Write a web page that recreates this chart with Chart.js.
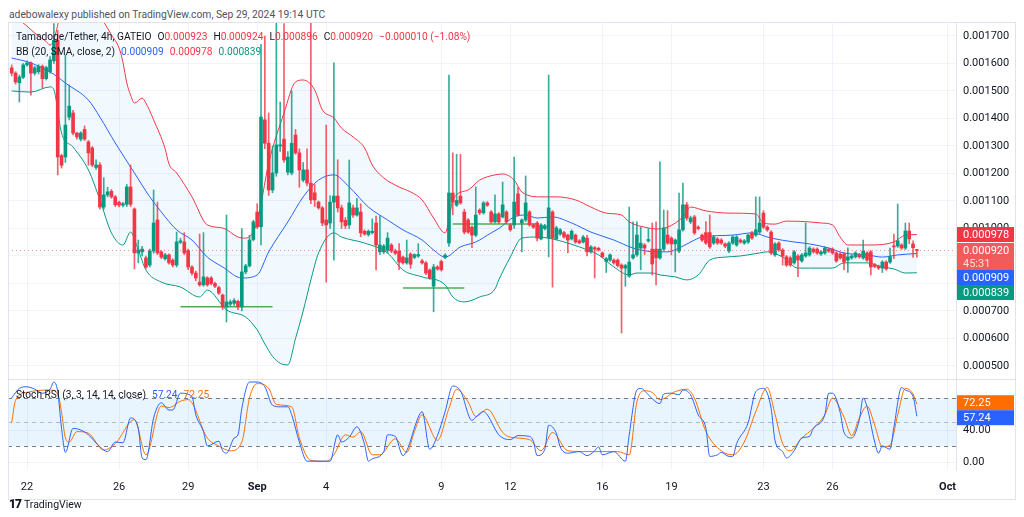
<!DOCTYPE html>
<html>
<head>
<meta charset="utf-8">
<title>Tamadoge/Tether 4h</title>
<script src="https://cdn.jsdelivr.net/npm/chart.js@4.4.1/dist/chart.umd.min.js"></script>
<style>
  body { margin: 0; width: 1024px; height: 517px; background: #fff; position: relative; overflow: hidden; font-family: Roboto, sans-serif; }
  .abs { position: absolute; }
  #header { left: 9px; top: 8px; font-size: 10.3px; color: #50535e; }
  #frame { left: 8px; top: 22px; width: 1008px; height: 478px; border: 1px solid #e0e3eb; box-sizing: border-box; pointer-events: none; }
  .sep { background: #e0e3eb; }
  .legend { left: 16px; font-size: 10.2px; color: #131722; white-space: nowrap; line-height: 13px; }
  .legend span { margin-left: 6px; }
  #logo { left: 9px; top: 497px; font-size: 10.5px; color: #131722; }
  #logo b { font-size: 12px; font-weight: 900; letter-spacing: -1px; margin-right: 3px; }
</style>
</head>
<body>
<div id="header" class="abs">adebowalexy published on TradingView.com, Sep 29, 2024 19:14 UTC</div>
<canvas id="main" class="abs" width="1008" height="357" style="left:8px;top:22px"></canvas>
<canvas id="stoch" class="abs" width="1008" height="121" style="left:8px;top:379px"></canvas>
<div id="frame" class="abs"></div>
<div class="abs sep" style="left:8px;top:379px;width:1008px;height:1px"></div>
<div id="legend1" class="abs legend" style="top:30px"></div>
<div id="legend2" class="abs legend" style="top:45px"></div>
<div id="legend3" class="abs legend" style="top:388px"></div>
<div id="logo" class="abs"><b>17</b>TradingView</div>
<script>
// prices in millionths of USDT, one entry per 4h candle (first one Aug 21 08:00)
const opens = [
  1584,1565,1530,1550,1595,1602,1565,1570,1590,1545,
  1570,1610,1685,1265,1260,1405,1420,1347,1325,1360,
  1315,1293,1222,1231,1078,1122,1135,1115,1095,1085,
  1088,1151,1071,911,915,893,867,918,1031,915,
  890,904,885,867,950,951,920,860,838,805,
  795,820,820,800,785,758,715,725,728,735,
  715,842,864,960,1060,1006,1395,1310,1140,1202,
  1300,1325,1205,1202,1340,1275,1176,1213,1165,1130,
  1096,1075,1031,1020,1096,1118,1075,1030,1013,1075,
  1049,1060,990,978,985,1020,915,915,920,940,
  918,918,896,875,907,895,900,882,875,849,
  790,860,880,895,947,1129,1085,1118,1060,1031,
  1005,976,1067,1057,1093,1060,1024,1053,1042,1060,
  1013,1013,1126,1020,1031,1060,1013,1020,962,1000,
  965,1060,962,980,985,976,962,976,955,951,
  965,915,930,928,911,880,885,885,885,867,
  856,827,893,904,929,940,955,925,925,893,
  925,976,965,944,918,995,1086,1024,1042,1005,
  976,985,985,947,962,958,944,918,947,940,
  958,947,951,984,976,987,1056,1005,987,904,
  947,922,897,893,875,900,882,900,904,925,
  925,907,911,925,925,911,907,907,885,893,
  897,904,893,911,915,868,862,856,878,878,
  936,936,940,929,991,944,923
];
const highs = [
  1595,1570,1558,1600,1610,1606,1590,1596,1595,1590,
  1625,1745,1720,1270,1631,1522,1430,1350,1352,1373,
  1320,1298,1250,1240,1185,1150,1142,1120,1100,1095,
  1160,1231,1075,958,935,900,925,1140,1096,920,
  910,908,890,987,965,985,925,865,845,980,
  985,825,825,805,790,762,1049,740,745,740,
  1000,870,975,1030,1090,1670,1700,1420,1300,1751,
  1460,1745,1280,1500,1360,1290,1240,1290,1750,1160,
  1100,1080,1376,1120,1602,1250,1085,1040,1249,1085,
  1110,1090,995,995,1035,1045,1045,942,985,945,
  925,945,900,958,912,908,945,888,880,853,
  870,865,885,908,1558,1275,1270,1270,1070,1036,
  1010,1151,1072,1098,1098,1065,1122,1058,1169,1065,
  1018,1260,1150,1035,1191,1065,1018,1025,1018,1015,
  1558,1065,1008,1000,990,980,995,980,960,975,
  975,938,935,932,915,895,908,890,890,872,
  870,1078,1024,1024,1005,945,1000,1020,1024,1242,
  1067,1065,970,962,1129,1165,1095,1045,1048,1010,
  980,1025,1049,975,967,963,948,952,974,974,
  963,960,980,990,1115,1115,1065,1010,992,949,
  952,927,902,898,920,905,909,1020,934,930,
  930,920,934,930,930,916,912,912,930,905,
  916,909,958,916,920,873,867,883,883,929,
  980,1089,945,1020,1020,955,924
];
const lows = [
  1555,1525,1460,1545,1590,1485,1558,1562,1510,1540,
  1565,1600,1195,1220,1240,1395,1340,1325,1318,1320,
  1230,1225,1215,1070,1070,1115,1110,1080,1078,1078,
  1080,1080,853,875,900,855,860,910,905,890,
  885,870,860,860,945,905,850,830,810,790,
  790,790,795,785,760,705,660,718,720,705,
  700,835,860,955,1000,940,1290,1120,1130,1190,
  1280,1240,1195,1195,1270,1150,1170,1155,1090,1080,
  1070,1010,805,1000,885,1060,1000,1000,1000,1040,
  1045,970,975,972,980,849,905,908,910,912,
  905,850,870,870,855,890,895,870,832,815,
  697,848,845,890,935,1050,1080,1088,980,982,
  930,970,1050,1052,1080,1018,1020,1018,1038,1018,
  990,1000,1045,915,1025,1008,1000,955,958,995,
  897,787,958,975,965,911,958,946,944,947,
  900,910,820,918,893,840,880,870,860,620,
  790,822,888,898,850,905,950,831,795,888,
  920,942,904,842,912,990,1030,1018,978,995,
  952,942,928,942,942,942,930,912,942,935,
  946,942,946,960,971,982,1000,990,905,898,
  917,867,862,862,870,825,877,895,899,910,
  906,902,906,913,906,877,888,849,840,888,
  892,892,888,880,831,857,851,840,848,873,
  890,931,924,924,945,895,896
];
const closes = [
  1565,1533,1551,1595,1602,1565,1584,1590,1545,1585,
  1613,1685,1260,1230,1376,1445,1347,1333,1347,1325,
  1275,1231,1231,1078,1122,1133,1115,1086,1085,1090,
  1151,1088,911,922,925,860,918,1020,911,896,
  904,875,867,951,955,911,860,838,820,795,
  824,795,800,790,765,715,733,733,738,715,
  842,864,958,1024,1006,1405,1310,1140,1202,1304,
  1304,1249,1260,1310,1275,1213,1213,1165,1104,1104,
  1075,1020,1013,1096,1118,1075,1024,1010,1093,1049,
  1075,984,980,990,990,940,940,936,965,918,
  910,878,875,893,870,905,905,875,838,820,
  860,853,850,903,1129,1096,1102,1093,987,987,
  976,1049,1057,1093,1085,1024,1053,1024,1086,1024,
  995,1096,1049,1031,1093,1013,1005,965,1013,1010,
  1075,965,1002,995,969,958,990,951,948,969,
  915,933,925,922,897,890,904,875,865,856,
  865,878,904,976,947,929,960,871,893,925,
  1002,947,944,958,995,1086,1038,1038,984,1000,
  958,947,933,969,947,947,936,947,969,969,
  951,955,976,965,995,1020,1005,995,911,944,
  922,900,867,867,915,885,904,911,929,915,
  911,915,929,918,911,882,893,878,897,900,
  911,897,918,885,860,862,856,878,853,897,
  933,955,929,991,962,930,920
];

// Bollinger Bands (20, SMA, close, 2), read as [candle, value]
const bbUpper = [[0,1770],[3,1747],[6,1711],[9,1680],[10,1667],[12,1740],[13,1830],[16,1900],[20,1880],[23,1770],
  [24,1751],[26,1704],[28,1656],[29,1605],[30,1530],[31,1485],[32,1456],[34,1474],[35,1456],[37,1395],[40,1290],
  [41,1235],[43,1202],[47,1115],[51,1013],[55,1002],[59,969],[61,965],[64,1024],[67,1238],[71,1420],[74,1533],
  [76,1540],[79,1504],[81,1431],[84,1402],[86,1365],[89,1333],[92,1293],[94,1231],[97,1184],[101,1151],[104,1133],
  [107,1104],[110,1038],[113,984],[114,1031],[115,1104],[119,1140],[122,1176],[126,1195],[128,1198],[131,1176],
  [133,1133],[138,1115],[142,1115],[147,1104],[151,1078],[155,1056],[159,1049],[161,1024],[166,1002],[168,998],
  [171,1005],[175,1042],[177,1078],[181,1064],[187,1056],[194,1053],[196,1020],[199,1016],[202,1027],[208,1024],
  [211,1020],[214,1013],[216,969],[218,940],[224,940],[230,951],[233,976],[236,978]];
const bbBasis = [[0,1620],[5,1602],[10,1569],[12,1551],[14,1529],[20,1467],[23,1405],[27,1311],[32,1202],[36,1115],
  [39,1060],[43,995],[47,958],[51,896],[55,860],[60,820],[64,831],[67,915],[72,1024],[76,1115],[80,1176],[84,1195],
  [88,1151],[93,1078],[98,1031],[102,995],[107,958],[110,922],[113,896],[117,933],[121,951],[125,984],[127,1000],
  [131,1042],[134,1049],[137,1038],[141,1042],[146,1020],[151,987],[157,958],[162,929],[168,915],[171,915],[174,929],
  [178,958],[180,969],[188,976],[193,984],[198,965],[204,951],[208,944],[213,929],[217,911],[223,904],[227,896],
  [231,904],[236,909]];
const bbLower = [[0,1500],[5,1496],[10,1515],[11,1504],[13,1347],[16,1296],[20,1213],[23,1104],[26,984],[29,940],
  [31,987],[33,922],[35,849],[39,805],[44,787],[49,751],[51,776],[56,704],[61,678],[64,631],[66,580],[68,535],
  [70,510],[72,504],[74,600],[76,700],[78,813],[80,911],[84,984],[86,969],[92,947],[98,911],[102,849],[107,824],
  [113,795],[115,751],[118,733],[122,751],[126,780],[127,813],[130,896],[133,965],[137,969],[140,965],[144,951],
  [148,933],[153,904],[157,860],[161,831],[163,838],[167,838],[169,831],[173,824],[176,813],[179,831],[182,885],
  [186,896],[190,900],[195,911],[197,915],[201,896],[205,856],[208,856],[214,856],[217,875],[223,875],[227,860],
  [230,853],[233,838],[236,839]];

// Stoch RSI (3, 3, 14, 14, close): K and D as [candle, value]
const stochK = [[0,80],[2,92],[4,94],[6,91],[8,86],[10,91],[11,100],[12,88],[13,42],[14,12],[16,42],[18,40],[20,34],
  [23,19],[25,13],[27,25],[29,24],[31,55],[33,42],[34,5],[35,3],[37,55],[39,74],[41,65],[42,65],[44,86],[47,82],
  [48,59],[50,38],[51,20],[54,26],[55,14],[56,11],[58,30],[59,34],[60,67],[62,100],[64,100],[66,94],[68,71],[70,69],
  [72,69],[73,59],[75,25],[77,1],[82,1],[83,1],[85,34],[86,25],[88,31],[90,44],[92,22],[93,1],[94,4],[97,13],[98,34],
  [100,32],[102,8],[103,14],[106,56],[107,63],[109,16],[111,33],[113,63],[115,95],[117,89],[120,52],[121,56],[123,63],
  [124,59],[127,34],[130,28],[132,33],[135,32],[136,26],[137,8],[139,16],[140,46],[142,36],[143,19],[145,11],[148,13],
  [150,8],[152,14],[153,19],[154,9],[157,13],[160,1],[161,34],[163,90],[164,92],[166,84],[167,79],[169,73],[170,85],
  [172,86],[174,84],[175,90],[177,84],[179,59],[181,42],[182,7],[184,9],[185,12],[187,7],[188,7],[189,23],[192,49],
  [194,88],[196,92],[198,67],[199,27],[201,13],[202,5],[204,14],[206,30],[208,32],[209,42],[212,59],[213,86],[214,86],
  [216,62],[217,37],[219,30],[221,53],[222,80],[223,69],[225,25],[226,11],[227,20],[229,16],[230,43],[232,93],[233,90],
  [235,82],[236,57.24]];
const stochD = [[0,49],[1,77],[4,87],[10,90],[12,85],[13,62],[14,30],[15,25],[17,38],[20,36],[24,15],[27,23],[32,53],
  [35,9],[39,70],[41,68],[44,76],[46,78],[51,30],[54,20],[57,14],[60,25],[62,80],[64,98],[67,92],[69,72],[73,69],
  [75,30],[78,2],[82,1],[84,9],[87,34],[89,31],[91,38],[94,9],[96,9],[100,29],[103,12],[105,38],[107,59],[111,27],
  [114,67],[116,91],[119,75],[121,57],[124,66],[128,37],[130,31],[135,28],[138,14],[141,37],[145,14],[150,13],
  [154,13],[158,13],[161,9],[163,75],[165,89],[167,87],[169,78],[173,88],[176,91],[178,80],[181,38],[185,14],
  [188,9],[191,25],[194,63],[197,93],[199,60],[201,23],[203,14],[206,30],[209,42],[212,59],[214,80],[217,56],
  [219,33],[221,55],[223,70],[225,46],[227,19],[229,21],[231,59],[233,92],[235,85],[236,72.25]];

// horizontal lines drawn on the chart
const levelPrice = [715, 784, 1016];
const levelFrom = [44, 102, 115];
const levelTo = [68, 118, 137];

const priceTicks = [500, 600, 700, 800, 900, 1000, 1100, 1200, 1300, 1400, 1500, 1600, 1700];
const stochTicks = [0, 40];
const bandLevels = [80, 50, 20];
const tickLabels = ['22', '26', '29', 'Sep', '4', '9', '12', '16', '19', '23', '26', 'Oct'];
const tickDays = [0, 4, 7, 10, 13, 18, 21, 25, 28, 32, 35, 40]; // days after Aug 22 00:00
const firstCandleDay = -2 / 3;
const candlesPerDay = 6;
const countdown = '45:31';

const UP = '#089981', DOWN = '#f23645';
Chart.defaults.font.family = 'Roboto';
Chart.defaults.color = '#131722';

const fmt = v => (v / 1e6).toFixed(6);
const pts = arr => arr.map(([x, y]) => ({x, y}));
const colorOf = i => closes[i] >= opens[i] ? UP : DOWN;
const wickOf = i => closes[i] >= opens[i] ? 'rgba(8,153,129,0.8)' : 'rgba(242,54,69,0.8)';
const dayIdx = d => (d - firstCandleDay) * candlesPerDay;
const lastIdx = closes.length - 1;
const noPad = s => { s.paddingTop = 0; s.paddingBottom = 0; s.paddingLeft = 0; s.paddingRight = 0; };

function xScale(showLabels) {
  return {
    type: 'linear', min: -0.965, max: 246.2, offset: false,
    afterBuildTicks: s => { s.ticks = tickDays.map(d => ({value: dayIdx(d)})); },
    afterFit: s => { s.height = showLabels ? 30 : 0; noPad(s); },
    grid: {color: '#f0f3fa', drawTicks: false, offset: false},
    border: {display: false},
    ticks: {
      display: showLabels, autoSkip: false, maxRotation: 0, padding: 11, color: '#131722',
      callback: (v, k) => tickLabels[k],
      font: c => ({size: 11, weight: /^[A-Z]/.test(tickLabels[c.index]) ? 'bold' : 'normal'})
    }
  };
}

function yScale(min, max, ticks, label) {
  return {
    type: 'linear', position: 'right', min, max,
    afterBuildTicks: s => { s.ticks = ticks.map(v => ({value: v})); },
    afterFit: s => { s.width = 60; noPad(s); },
    grid: {color: '#f0f3fa', drawTicks: false},
    border: {color: '#e0e3eb'},
    ticks: {callback: label, color: '#131722', font: {size: 11}, padding: 7}
  };
}

function drawBoxes(chart, items, fmtv, push) {
  const {ctx, chartArea: a, scales: {y}} = chart;
  const boxes = items.map(it => ({...it, top: y.getPixelForValue(it.value) - 7.5, h: it.sub ? 27 : 15}));
  for (let k = 1; k < boxes.length; k++) {
    const p = boxes[k - 1], b = boxes[k];
    const ov = p.top + p.h - b.top;
    if (ov > 0) {
      if (push) b.top += ov;
      else { p.top -= ov / 2; b.top += ov / 2; }
    }
  }
  ctx.save();
  ctx.font = '11px Roboto';
  ctx.textBaseline = 'middle';
  ctx.textAlign = 'left';
  boxes.forEach(b => {
    ctx.fillStyle = b.color;
    ctx.fillRect(a.right + 1, b.top, 57, b.h);
    ctx.fillStyle = '#fff';
    ctx.fillText(fmtv(b.value), a.right + 7, b.top + 8);
    if (b.sub) {
      ctx.fillStyle = 'rgba(255,255,255,0.8)';
      ctx.fillText(b.sub, a.right + 7, b.top + 21);
    }
  });
  ctx.restore();
}

const bandFill = {
  id: 'bandFill',
  beforeDatasetsDraw(chart) {
    const {ctx, chartArea: a, scales: {x, y}} = chart;
    ctx.save();
    ctx.beginPath();
    ctx.rect(a.left, a.top, a.right - a.left, a.bottom - a.top);
    ctx.clip();
    ctx.beginPath();
    bbUpper.forEach(([i, v], k) => ctx[k ? 'lineTo' : 'moveTo'](x.getPixelForValue(i), y.getPixelForValue(v)));
    [...bbLower].reverse().forEach(([i, v]) => ctx.lineTo(x.getPixelForValue(i), y.getPixelForValue(v)));
    ctx.closePath();
    ctx.fillStyle = 'rgba(33,150,243,0.06)';
    ctx.fill();
    ctx.restore();
  },
  afterDatasetsDraw(chart) {
    const {ctx, chartArea: a, scales: {y}} = chart;
    const yy = Math.round(y.getPixelForValue(closes[lastIdx])) + 0.5;
    ctx.save();
    ctx.strokeStyle = 'rgba(242,54,69,0.55)';
    ctx.setLineDash([1, 3]);
    ctx.beginPath();
    ctx.moveTo(a.left, yy);
    ctx.lineTo(a.right, yy);
    ctx.stroke();
    ctx.restore();
  },
  afterDraw(chart) {
    drawBoxes(chart, [
      {value: bbUpper[bbUpper.length - 1][1], color: '#f23645'},
      {value: closes[lastIdx], color: '#f15b5b', sub: countdown},
      {value: bbBasis[bbBasis.length - 1][1], color: '#2962ff'},
      {value: bbLower[bbLower.length - 1][1], color: '#089981'}
    ], fmt, true);
  }
};

const line = (data, color, order) => ({
  type: 'line', data: pts(data), borderColor: color, borderWidth: 1,
  pointRadius: 0, cubicInterpolationMode: 'monotone', order
});

new Chart(document.getElementById('main'), {
  type: 'bar',
  data: {
    datasets: [
      {type: 'bar', data: opens.map((o, i) => ({x: i, y: [o, closes[i]]})),
        backgroundColor: opens.map((_, i) => colorOf(i)), barThickness: 3, minBarLength: 1, grouped: false, order: 0},
      {type: 'bar', data: opens.map((_, i) => ({x: i, y: [lows[i], highs[i]]})),
        backgroundColor: opens.map((_, i) => wickOf(i)), barThickness: 1, grouped: false, order: 1},
      line(bbUpper, '#f23645', 2),
      line(bbBasis, '#2962ff', 3),
      line(bbLower, '#089981', 4),
      ...levelPrice.map((p, k) => ({
        type: 'line', data: [{x: levelFrom[k], y: p}, {x: levelTo[k], y: p}],
        borderColor: '#4caf50', borderWidth: 1.5, pointRadius: 0, order: 5
      }))
    ]
  },
  options: {
    responsive: false,
    animation: false,
    layout: {padding: 0},
    plugins: {legend: {display: false}, tooltip: {enabled: false}},
    scales: {
      x: xScale(false),
      y: yScale(452.7, 1750.9, priceTicks, v => fmt(v))
    }
  },
  plugins: [bandFill]
});

const stochBand = {
  id: 'stochBand',
  beforeDatasetsDraw(chart) {
    const {ctx, chartArea: a, scales: {y}} = chart;
    const top = y.getPixelForValue(bandLevels[0]), bot = y.getPixelForValue(bandLevels[2]);
    ctx.save();
    ctx.fillStyle = 'rgba(33,150,243,0.1)';
    ctx.fillRect(a.left, top, a.right - a.left, bot - top);
    ctx.setLineDash([4, 4]);
    ctx.lineWidth = 1;
    bandLevels.forEach((lv, k) => {
      ctx.strokeStyle = k === 1 ? 'rgba(120,123,134,0.5)' : '#787b86';
      const yy = Math.round(y.getPixelForValue(lv)) + 0.5;
      ctx.beginPath();
      ctx.moveTo(a.left, yy);
      ctx.lineTo(a.right, yy);
      ctx.stroke();
    });
    ctx.restore();
  },
  afterDraw(chart) {
    drawBoxes(chart, [
      {value: stochD[stochD.length - 1][1], color: '#ff6d00'},
      {value: stochK[stochK.length - 1][1], color: '#2962ff'}
    ], v => v.toFixed(2), false);
  }
};

new Chart(document.getElementById('stoch'), {
  type: 'line',
  data: {
    datasets: [
      line(stochK, '#2962ff', 0),
      line(stochD, '#ff6d00', 1)
    ]
  },
  options: {
    responsive: false,
    animation: false,
    layout: {padding: 0},
    plugins: {legend: {display: false}, tooltip: {enabled: false}},
    scales: {
      x: xScale(true),
      y: yScale(-10, 103.75, stochTicks, v => v.toFixed(2))
    }
  },
  plugins: [stochBand]
});

// legends
const red = colorOf(lastIdx);
const chg = closes[lastIdx] - closes[lastIdx - 1];
const pct = chg / closes[lastIdx - 1] * 100;
const minus = s => s.replace('-', '\u2212');
const ohlc = [['O', opens], ['H', highs], ['L', lows], ['C', closes]]
  .map(([k, arr]) => `<span>${k}<i style="font-style:normal;color:${red}">${fmt(arr[lastIdx])}</i></span>`).join('');
document.getElementById('legend1').innerHTML =
  `Tamadoge/Tether, 4h, GATEIO${ohlc}<span style="color:${red}">${minus(fmt(chg))} (${minus(pct.toFixed(2))}%)</span>`;
document.getElementById('legend2').innerHTML =
  `BB (20, SMA, close, 2)<span style="color:#2962ff">${fmt(bbBasis[bbBasis.length - 1][1])}</span>` +
  `<span style="color:#f23645">${fmt(bbUpper[bbUpper.length - 1][1])}</span>` +
  `<span style="color:#089981">${fmt(bbLower[bbLower.length - 1][1])}</span>`;
document.getElementById('legend3').innerHTML =
  `Stoch RSI (3, 3, 14, 14, close)<span style="color:#2962ff">${stochK[stochK.length - 1][1].toFixed(2)}</span>` +
  `<span style="color:#ff6d00">${stochD[stochD.length - 1][1].toFixed(2)}</span>`;
</script>
</body>
</html>
